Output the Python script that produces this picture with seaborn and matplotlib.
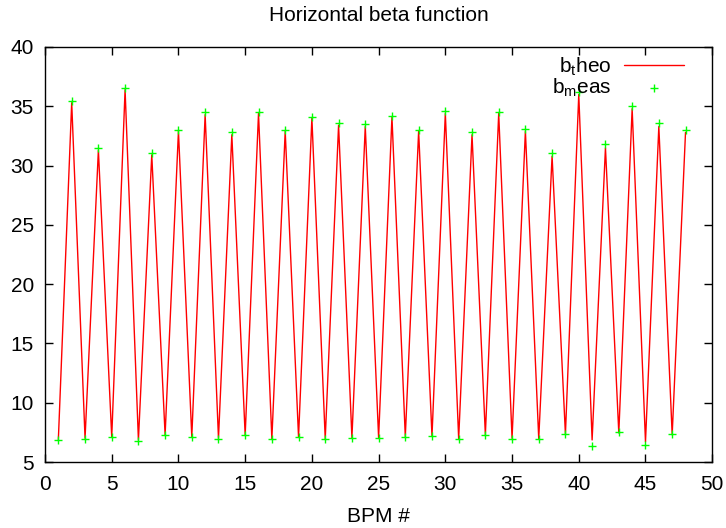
#!/usr/bin/env python3
"""Horizontal beta function: theory vs measurement per BPM."""

import pandas as pd
import seaborn as sns
import matplotlib
matplotlib.use("Agg")
import matplotlib.pyplot as plt

# DATA
bpm = list(range(1, 49))
b_meas = [
    6.86, 35.45, 6.98, 31.5, 7.12, 36.5, 6.78, 31.1, 7.31, 33.0,
    7.14, 34.5, 6.98, 32.8, 7.28, 34.5, 6.92, 33.0, 7.12, 34.1,
    6.92, 33.6, 7.06, 33.5, 7.05, 34.2, 7.14, 33.0, 7.20, 34.6,
    6.95, 32.8, 7.31, 34.5, 6.98, 33.1, 6.95, 31.1, 7.36, 36.2,
    6.36, 31.8, 7.51, 35.0, 6.44, 33.6, 7.34, 33.0,
]
b_theo = [
    6.90, 35.3, 7.00, 31.3, 7.10, 36.4, 6.85, 30.9, 7.28, 32.9,
    7.12, 34.3, 7.00, 32.6, 7.26, 34.4, 6.95, 32.9, 7.10, 34.0,
    6.95, 33.4, 7.05, 33.3, 7.06, 34.1, 7.14, 32.9, 7.18, 34.4,
    6.97, 32.6, 7.30, 34.4, 7.00, 32.9, 6.97, 30.8, 7.34, 36.0,
    6.86, 31.5, 7.45, 34.8, 6.70, 33.3, 7.30, 32.8,
]

df = pd.DataFrame({"bpm": bpm, "theo": b_theo, "meas": b_meas})

# STYLE
FONT_SIZE = 15
sns.set_theme(style="ticks")
plt.rcParams["font.family"] = ["Liberation Sans", "DejaVu Sans"]
plt.rcParams["mathtext.fontset"] = "custom"
plt.rcParams["mathtext.rm"] = "Liberation Sans"
plt.rcParams["mathtext.it"] = "Liberation Sans"
plt.rcParams["text.color"] = "black"
plt.rcParams["axes.labelcolor"] = "black"

fig = plt.figure(figsize=(7.26, 5.28), dpi=100)
ax = fig.add_axes([0.062, 0.125, 0.919, 0.786])

sns.lineplot(data=df, x="bpm", y="theo", color="#ff0000", linewidth=1.0,
             label=r"b$_\mathrm{t}$heo", ax=ax)
sns.scatterplot(data=df, x="bpm", y="meas", color="#00ff00", marker="+",
                s=28, linewidth=1.0, label=r"b$_\mathrm{m}$eas", ax=ax,
                zorder=3)

ax.set_xlim(0, 50)
ax.set_ylim(5, 40)
ax.set_xticks(range(0, 51, 5))
ax.set_yticks(range(5, 41, 5))
ax.tick_params(direction="in", length=6, width=1, top=True, right=True,
               labelsize=FONT_SIZE, colors="black")
ax.tick_params(axis="x", pad=9)
ax.tick_params(axis="y", pad=8)
for s in ax.spines.values():
    s.set_visible(True)
    s.set_linewidth(1)
    s.set_color("black")

ax.set_xlabel("BPM #", fontsize=FONT_SIZE, labelpad=10)
ax.set_ylabel("")
ax.set_title("Horizontal beta function", fontsize=FONT_SIZE, pad=19)

leg = ax.legend(loc="upper right", bbox_to_anchor=(0.974, 1.005),
                frameon=False, markerfirst=False, fontsize=FONT_SIZE,
                handlelength=2.9, handletextpad=0.6, borderaxespad=0.1,
                labelspacing=-0.05)

fig.savefig("out.png", dpi=100)
